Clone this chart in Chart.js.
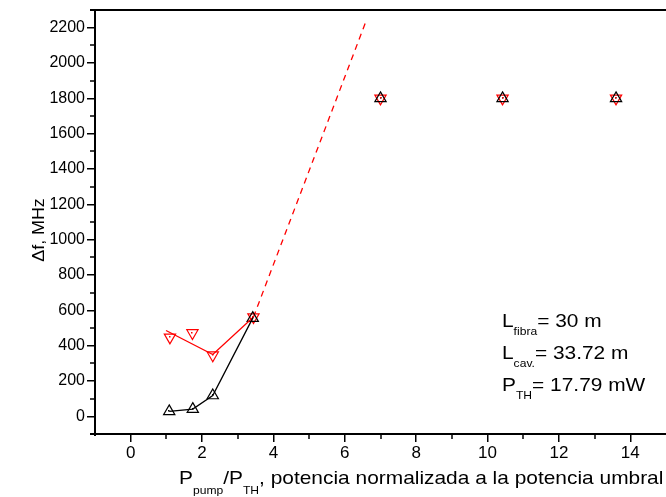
<!DOCTYPE html>
<html>
<head>
<meta charset="utf-8">
<script src="https://cdn.jsdelivr.net/npm/chart.js@4.4.0/dist/chart.umd.min.js"></script>
<style>
  html, body { margin: 0; padding: 0; background: #fff; }
  #wrap { width: 666px; height: 497px; }
</style>
</head>
<body>
<div id="wrap"><canvas id="chart" width="666" height="497"></canvas></div>
<script>
// measured values (Δf in MHz vs normalized pump power)
const xUp = [1.08, 1.74, 2.30, 3.42, 7.0, 10.42, 13.6];
const yUp = [28, 41, 118, 556, 1800, 1800, 1800];
const xDown = [1.10, 1.73, 2.30, 3.44, 7.0, 10.42, 13.6];
const yDown = [447, 472, 346, 562, 1800, 1800, 1800];
// red fit line and dashed extrapolation
const xRedFit = [0.99, 2.30, 3.44];
const yRedFit = [486, 350, 562];
const xRedDash = [3.44, 6.61];
const yRedDash = [562, 2245];
// black line joins the first four points
const nBlackLine = 4;

// tick labels
const xTickVals = [0, 2, 4, 6, 8, 10, 12, 14];
const yTickVals = [0, 200, 400, 600, 800, 1000, 1200, 1400, 1600, 1800, 2000, 2200];
const xMinorTicks = [-1, 1, 3, 5, 7, 9, 11, 13, 15];
const yMinorTicks = [-100, 100, 300, 500, 700, 900, 1100, 1300, 1500, 1700, 1900, 2100, 2300];

const FONT = "'Liberation Sans', Arial, sans-serif";

function pts(xs, ys) {
  return xs.map((x, i) => ({ x: x, y: ys[i] }));
}

const extras = {
  id: 'extras',
  afterDatasetsDraw(chart) {
    const ctx = chart.ctx;
    // little dots in the middle of the triangles
    [2, 3].forEach(di => {
      const meta = chart.getDatasetMeta(di);
      const col = chart.data.datasets[di].borderColor;
      meta.data.forEach(el => {
        ctx.fillStyle = col;
        ctx.fillRect(Math.round(el.x) - 1, Math.round(el.y) - 1, 1.5, 1.5);
      });
    });
  },
  afterDraw(chart) {
    const ctx = chart.ctx;
    const a = chart.chartArea;
    const xs = chart.scales.x, ys = chart.scales.y;
    ctx.save();
    ctx.strokeStyle = '#000';
    // frame lines, extended a little past the corner
    ctx.lineWidth = 2;
    ctx.beginPath();
    ctx.moveTo(90, a.top); ctx.lineTo(a.right, a.top);
    ctx.moveTo(90, a.bottom); ctx.lineTo(a.left, a.bottom);
    ctx.moveTo(a.left, a.bottom); ctx.lineTo(a.left, a.bottom + 2);
    ctx.stroke();
    // minor ticks
    ctx.lineWidth = 1.5;
    ctx.beginPath();
    xMinorTicks.forEach(v => {
      const p = Math.round(xs.getPixelForValue(v));
      if (p > a.left + 2 && p < a.right) {
        ctx.moveTo(p, a.bottom); ctx.lineTo(p, a.bottom + 5);
      }
    });
    yMinorTicks.forEach(v => {
      const p = Math.round(ys.getPixelForValue(v));
      if (p > a.top + 2 && p < a.bottom - 2) {
        ctx.moveTo(a.left, p); ctx.lineTo(a.left - 5, p);
      }
    });
    ctx.stroke();

    ctx.fillStyle = '#000';
    ctx.textBaseline = 'alphabetic';
    ctx.textAlign = 'left';
    // text with subscripts, slightly stretched sideways like the original
    function subText(parts, x, y, subDy) {
      ctx.save();
      ctx.translate(x, y);
      ctx.scale(1.1, 1);
      let cx = 0;
      parts.forEach(p => {
        ctx.font = (p[1] ? '11px ' : '19px ') + FONT;
        ctx.fillText(p[0], cx, p[1] ? subDy : 0);
        cx += ctx.measureText(p[0]).width;
      });
      ctx.restore();
    }
    subText([['P', 0], ['pump', 1], ['/P', 0], ['TH', 1], [', potencia normalizada a la potencia umbral', 0]], 179, 484, 10);
    subText([['L', 0], ['fibra', 1], ['= 30 m', 0]], 502, 327, 8);
    subText([['L', 0], ['cav.', 1], ['= 33.72 m', 0]], 502, 359, 8);
    subText([['P', 0], ['TH', 1], ['= 17.79 mW', 0]], 502, 391, 8);

    // y axis title
    ctx.save();
    ctx.translate(44, 230);
    ctx.rotate(-Math.PI / 2);
    ctx.scale(1.05, 1);
    ctx.textAlign = 'center';
    ctx.font = '17px ' + FONT;
    ctx.fillText('\u0394f, MHz', 0, 0);
    ctx.restore();
    ctx.restore();
  }
};

new Chart(document.getElementById('chart'), {
  type: 'scatter',
  data: {
    datasets: [
      {
        data: pts(xUp.slice(0, nBlackLine), yUp.slice(0, nBlackLine)),
        showLine: true, borderColor: '#000', borderWidth: 1.3,
        pointRadius: 0, fill: false
      },
      {
        data: pts(xRedFit, yRedFit),
        showLine: true, borderColor: '#ff0000', borderWidth: 1.3,
        pointRadius: 0, fill: false
      },
      {
        data: pts(xUp, yUp),
        borderColor: '#000', backgroundColor: 'rgba(0,0,0,0)',
        pointStyle: 'triangle', pointRadius: 6.5, borderWidth: 1.2
      },
      {
        data: pts(xDown, yDown),
        borderColor: '#ff0000', backgroundColor: 'rgba(0,0,0,0)',
        pointStyle: 'triangle', rotation: 180, pointRadius: 6.5, borderWidth: 1.2
      },
      {
        data: pts(xRedDash, yRedDash),
        showLine: true, borderColor: '#ff0000', borderWidth: 1.3,
        borderDash: [6, 5], pointRadius: 0, fill: false
      }
    ]
  },
  options: {
    responsive: false,
    animation: false,
    layout: { autoPadding: false, padding: { top: 10, left: 0, right: 0, bottom: 0 } },
    plugins: { legend: { display: false }, tooltip: { enabled: false } },
    scales: {
      x: {
        type: 'linear', min: -1, max: 15,
        afterFit(s) { s.height = 63; s.paddingLeft = 0; s.paddingRight = 0; },
        afterBuildTicks(s) { s.ticks = xTickVals.map(v => ({ value: v })); },
        border: { display: true, color: '#000', width: 2 },
        grid: { display: true, drawOnChartArea: false, drawTicks: true, tickLength: 8, color: '#000', lineWidth: 1.5 },
        ticks: {
          padding: 1, color: '#000', font: { family: FONT, size: 17 },
          maxRotation: 0, autoSkip: false,
          callback: v => String(v)
        }
      },
      y: {
        type: 'linear', min: -100, max: 2300,
        afterFit(s) { s.width = 95; s.paddingTop = 0; s.paddingBottom = 0; },
        afterBuildTicks(s) { s.ticks = yTickVals.map(v => ({ value: v })); },
        border: { display: true, color: '#000', width: 2 },
        grid: { display: true, drawOnChartArea: false, drawTicks: true, tickLength: 8, color: '#000', lineWidth: 1.5 },
        ticks: {
          padding: 2, color: '#000', font: { family: FONT, size: 16 },
          autoSkip: false,
          callback: v => String(v)
        }
      }
    }
  },
  plugins: [extras]
});
</script>
</body>
</html>
